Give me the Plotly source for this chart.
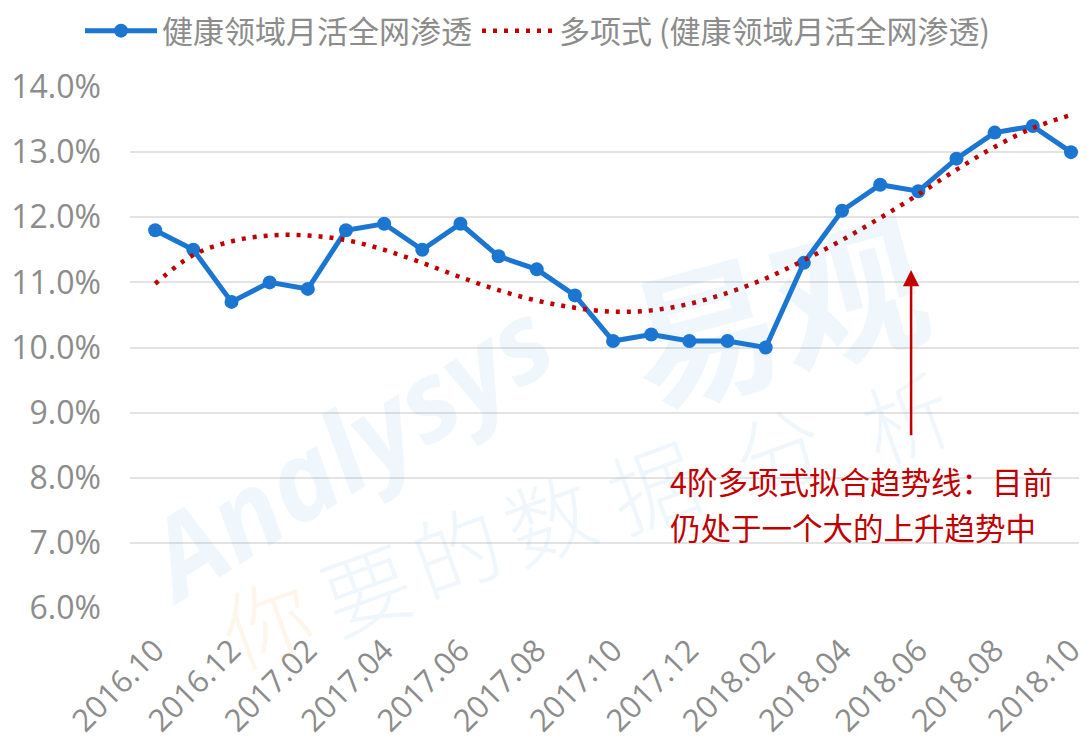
import plotly.graph_objects as go

months = ["2016.10","2016.11","2016.12","2017.01","2017.02","2017.03","2017.04","2017.05",
          "2017.06","2017.07","2017.08","2017.09","2017.10","2017.11","2017.12","2018.01",
          "2018.02","2018.03","2018.04","2018.05","2018.06","2018.07","2018.08","2018.09","2018.10"]
penetration = [11.8,11.5,10.7,11.0,10.9,11.8,11.9,11.5,11.9,11.4,11.2,10.8,10.1,10.2,10.1,10.1,
               10.0,11.3,12.1,12.5,12.4,12.9,13.3,13.4,13.0]
trend = [10.98,11.42,11.63,11.72,11.72,11.65,11.50,11.30,11.08,10.88,10.72,10.61,10.55,10.57,
         10.67,10.84,11.06,11.34,11.65,11.99,12.35,12.73,13.08,13.37,13.57]
tick_labels = months[::2]
series_name = "健康领域月活全网渗透"
trend_name = "多项式 (健康领域月活全网渗透)"
note_lines = ["4阶多项式拟合趋势线：目前", "仍处于一个大的上升趋势中"]

x = list(range(len(months)))
CJK = "Noto Sans CJK SC"
NUM = "Open Sans, Noto Sans CJK SC"
GREY = "#8C8C8C"
WM = "rgba(40,130,215,0.075)"

# page body has an 8px default margin: figure spans x 8..1087, y 8..742
OX, OY = 8, 8
W, H = 1087 - OX, 742 - OY
L, T = 130 - OX, 87 - OY
PW, PH = 1087 - 130, 608 - 87


def px2paper(px, py):
    return (px - 130) / PW, (608 - py) / PH


fig = go.Figure()

# watermark (decorative)
ax_, ay_ = px2paper(345, 448)
fig.add_annotation(text="<b><i>Analysys</i></b>", xref="paper", yref="paper", x=ax_, y=ay_,
                   xanchor="center", yanchor="middle", showarrow=False, textangle=-32,
                   font=dict(size=110, color=WM, family="Open Sans"))
bx_, by_ = px2paper(775, 305)
fig.add_annotation(text="<b>易观</b>", xref="paper", yref="paper", x=bx_, y=by_,
                   xanchor="center", yanchor="middle", showarrow=False, textangle=-15,
                   font=dict(size=150, color=WM, family=CJK))
wm_chars = ["你", "要", "的", "数", "据", "分", "析"]
wm_pos = [(265, 618), (365, 585), (455, 547), (548, 515), (652, 482), (777, 447), (905, 414)]
for ch, (px, py) in zip(wm_chars, wm_pos):
    col = "rgba(250,170,90,0.12)" if ch == "你" else WM
    cx, cy = px2paper(px, py)
    fig.add_annotation(text=ch, xref="paper", yref="paper", x=cx, y=cy,
                       xanchor="center", yanchor="middle", showarrow=False, textangle=-20,
                       font=dict(size=88, color=col, family=CJK, weight=300))

fig.add_trace(go.Scatter(x=x, y=penetration, name=series_name, mode="lines+markers",
                         line=dict(color="#1B76D2", width=5),
                         marker=dict(size=14, color="#1B76D2")))
fig.add_trace(go.Scatter(x=x, y=trend, name=trend_name, mode="lines",
                         line=dict(color="#C00000", width=4.5, dash="4px,7px", shape="spline")))

# arrow
fig.add_annotation(x=19.81, y=11.19, ax=19.81, ay=8.63, xref="x", yref="y", axref="x", ayref="y",
                   text="", showarrow=True, arrowhead=2, arrowsize=1.3, arrowwidth=2.5,
                   arrowcolor="#C00000")
for line, yv in zip(note_lines, [7.95, 7.24]):
    fig.add_annotation(text=line, xref="x", yref="y", x=13.45, y=yv, xanchor="left",
                       yanchor="middle", align="left", showarrow=False,
                       font=dict(size=30.5, color="#C00000", family=CJK))

fig.update_layout(
    width=W, height=H,
    margin=dict(l=L, r=0, t=T, b=H - (608 - OY)),
    paper_bgcolor="white", plot_bgcolor="white",
    font=dict(family=NUM, color=GREY),
    showlegend=True,
    legend=dict(orientation="h", x=(80 - OX) / W, xref="container", xanchor="left",
                y=1 - (31 - OY) / H, yref="container", yanchor="middle",
                font=dict(size=31, color=GREY, family=CJK), itemwidth=72,
                bgcolor="rgba(0,0,0,0)"),
    xaxis=dict(range=[-0.66, 24.42], tickmode="array", tickvals=x[::2], ticktext=tick_labels,
               tickangle=-45, tickfont=dict(size=31, color=GREY, family=NUM), showgrid=False,
               zeroline=False, showline=False, ticks="", automargin=False,
               ticklabeloverflow="allow", ticklabelstandoff=17),
    yaxis=dict(range=[6, 14.0], dtick=1, tickformat=".1f", ticksuffix="%",
               tickfont=dict(size=32, color=GREY, family=NUM), gridcolor="#E3E3E3", gridwidth=2,
               zeroline=False, showline=False, ticks="", ticklabelstandoff=28, automargin=False),
)
fig.write_html("out.html")
